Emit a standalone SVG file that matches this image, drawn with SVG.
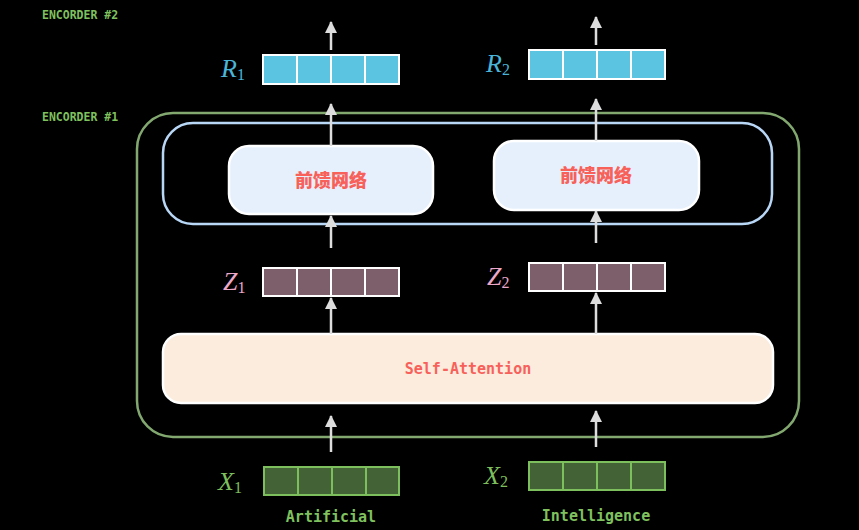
<svg xmlns="http://www.w3.org/2000/svg" width="859" height="530" viewBox="0 0 859 530">
<defs>
<marker id="ah" viewBox="0 0 12 12" refX="11" refY="6" markerWidth="12" markerHeight="12" markerUnits="userSpaceOnUse" orient="auto">
<path d="M12 6 L0 0 L0 12 Z" fill="#dddddd"/>
</marker>
<style>
.arr{stroke:#dddddd;stroke-width:2.5;fill:none}
.enc{font-family:"DejaVu Sans Mono",monospace;font-weight:bold;font-size:11.5px;fill:#7fc15e}
.word{font-family:"DejaVu Sans Mono",monospace;font-weight:bold;font-size:15px;fill:#7fc15e;text-anchor:middle}
.red{font-family:"DejaVu Sans Mono","Noto Sans CJK SC",monospace;font-weight:bold;fill:#f7615a;text-anchor:middle}
.cjk{font-family:"Noto Sans CJK SC",sans-serif;font-weight:900;fill:#f7615a;text-anchor:middle;font-size:18px}
.math{font-family:"Liberation Serif","DejaVu Serif",serif;font-style:italic;font-size:26px}
.sub{font-family:"Liberation Serif","DejaVu Serif",serif;font-style:normal;font-size:16px}
.cellR{fill:#5bc4e0;stroke:#ffffff;stroke-width:2}
.cellZ{fill:#7d5f6b;stroke:#ffffff;stroke-width:2}
.cellX{fill:#436235;stroke:#7cbf5c;stroke-width:2}
</style>
</defs>
<rect width="859" height="530" fill="#000000"/>
<text class="enc" x="42" y="19">ENCORDER #2</text>
<text class="enc" x="42" y="121">ENCORDER #1</text>
<g id="encoder1"><rect x="137" y="113" width="662" height="324" rx="36" fill="none" stroke="#82a870" stroke-width="2.5"/></g>
<g id="ffnGroup"><rect x="163" y="123" width="609" height="101" rx="30" fill="none" stroke="#b8d6f5" stroke-width="2.5"/></g>
<g id="ffn1"><rect x="229" y="146" width="204" height="68" rx="20" fill="#e6f0fc" stroke="#ffffff" stroke-width="2.5"/><text class="cjk" x="331" y="187">前馈网络</text></g>
<g id="ffn2"><rect x="494" y="141" width="205" height="69" rx="20" fill="#e6f0fc" stroke="#ffffff" stroke-width="2.5"/><text class="cjk" x="596" y="182">前馈网络</text></g>
<g id="selfattn"><rect x="163" y="334" width="610" height="69" rx="18" fill="#fcecdd" stroke="#ffffff" stroke-width="2.5"/><text class="red" x="468" y="374" font-size="15">Self-Attention</text></g>
<g id="R1"><rect class="cellR" x="263" y="55" width="34" height="29"/><rect class="cellR" x="297" y="55" width="34" height="29"/><rect class="cellR" x="331" y="55" width="34" height="29"/><rect class="cellR" x="365" y="55" width="34" height="29"/><text class="math" x="221" y="77" fill="#4ab5d8">R<tspan class="sub" dy="3">1</tspan></text></g>
<g id="R2"><rect class="cellR" x="529" y="50" width="34" height="29"/><rect class="cellR" x="563" y="50" width="34" height="29"/><rect class="cellR" x="597" y="50" width="34" height="29"/><rect class="cellR" x="631" y="50" width="34" height="29"/><text class="math" x="486" y="72" fill="#4ab5d8">R<tspan class="sub" dy="3">2</tspan></text></g>
<g id="Z1"><rect class="cellZ" x="263" y="268" width="34" height="28"/><rect class="cellZ" x="297" y="268" width="34" height="28"/><rect class="cellZ" x="331" y="268" width="34" height="28"/><rect class="cellZ" x="365" y="268" width="34" height="28"/><text class="math" x="223" y="290" fill="#eba8c8">Z<tspan class="sub" dy="3">1</tspan></text></g>
<g id="Z2"><rect class="cellZ" x="529" y="263" width="34" height="28"/><rect class="cellZ" x="563" y="263" width="34" height="28"/><rect class="cellZ" x="597" y="263" width="34" height="28"/><rect class="cellZ" x="631" y="263" width="34" height="28"/><text class="math" x="487" y="285" fill="#eba8c8">Z<tspan class="sub" dy="3">2</tspan></text></g>
<g id="X1"><rect class="cellX" x="264" y="467" width="34" height="28"/><rect class="cellX" x="298" y="467" width="34" height="28"/><rect class="cellX" x="332" y="467" width="34" height="28"/><rect class="cellX" x="366" y="467" width="33" height="28"/><text class="math" x="218" y="490" fill="#7cbf5c">X<tspan class="sub" dy="3">1</tspan></text><text class="word" x="331" y="522">Artificial</text></g>
<g id="X2"><rect class="cellX" x="529" y="462" width="34" height="28"/><rect class="cellX" x="563" y="462" width="34" height="28"/><rect class="cellX" x="597" y="462" width="34" height="28"/><rect class="cellX" x="631" y="462" width="34" height="28"/><text class="math" x="484" y="484" fill="#7cbf5c">X<tspan class="sub" dy="3">2</tspan></text><text class="word" x="596" y="521">Intelligence</text></g>
<g id="connectors">
<path class="arr" d="M331 50 V22" marker-end="url(#ah)"/>
<path class="arr" d="M331 146 V104" marker-end="url(#ah)"/>
<path class="arr" d="M331 248 V216" marker-end="url(#ah)"/>
<path class="arr" d="M331 334 V298" marker-end="url(#ah)"/>
<path class="arr" d="M331 452 V416" marker-end="url(#ah)"/>
<path class="arr" d="M596 45 V17" marker-end="url(#ah)"/>
<path class="arr" d="M596 141 V99" marker-end="url(#ah)"/>
<path class="arr" d="M596 243 V211" marker-end="url(#ah)"/>
<path class="arr" d="M596 334 V293" marker-end="url(#ah)"/>
<path class="arr" d="M596 447 V411" marker-end="url(#ah)"/>
</g>
</svg>
